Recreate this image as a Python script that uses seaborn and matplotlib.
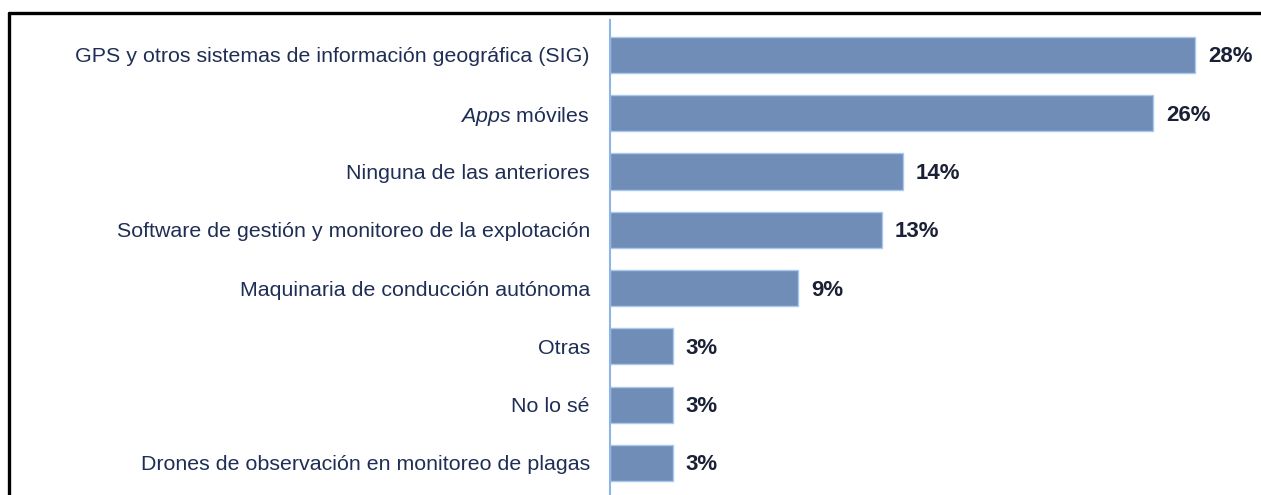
import matplotlib
matplotlib.use("Agg")
import matplotlib.pyplot as plt
import seaborn as sns
import pandas as pd
from matplotlib.lines import Line2D

categories = [
    "GPS y otros sistemas de información geográfica (SIG)",
    r"$\it{Apps}$ móviles",
    "Ninguna de las anteriores",
    "Software de gestión y monitoreo de la explotación",
    "Maquinaria de conducción autónoma",
    "Otras",
    "No lo sé",
    "Drones de observación en monitoreo de plagas",
]
values = [28, 26, 14, 13, 9, 3, 3, 3]
value_labels = ["28%", "26%", "14%", "13%", "9%", "3%", "3%", "3%"]

sns.set_theme(style="white")
plt.rcParams["font.family"] = ["Liberation Sans", "DejaVu Sans"]
plt.rcParams["mathtext.fontset"] = "custom"
plt.rcParams["mathtext.it"] = "Liberation Sans:italic"
plt.rcParams["mathtext.rm"] = "Liberation Sans"

W, H = 1261, 495
fig = plt.figure(figsize=(W / 100, H / 100), dpi=100)
ax = fig.add_axes([610 / W, 0, 1 - 610 / W, (495 - 20) / H])

df = pd.DataFrame({"cat": categories, "val": values})
sns.barplot(data=df, y="cat", x="val", orient="h", color="#6f8db6",
            saturation=1, width=0.62, edgecolor="#a9c8f0", linewidth=1.0, ax=ax)

px_per_unit = 585 / 28
ax.set_xlim(0, (W - 610) / px_per_unit)
ax.set_ylim(7.55, -0.6)

for i, (v, lab) in enumerate(zip(values, value_labels)):
    ax.annotate(lab, xy=(v, i), xytext=(13, -2), textcoords="offset pixels",
                va="center", ha="left", fontsize=16, fontweight="bold",
                color="#1a2035")

ax.set_xlabel("")
ax.set_ylabel("")
ax.set_xticks([])
ax.tick_params(axis="y", length=0, pad=14.5, labelsize=15.4, labelcolor="#1f2e55")
for s in ["top", "right", "bottom"]:
    ax.spines[s].set_visible(False)
ax.spines["left"].set_color("#8fb4e6")
ax.spines["left"].set_linewidth(1.5)

# outer frame lines (top and left)
fig.add_artist(Line2D([9 / W, 1], [1 - 13 / H, 1 - 13 / H], color="black",
                      linewidth=2.4, transform=fig.transFigure))
fig.add_artist(Line2D([9 / W, 9 / W], [0, 1 - 13 / H], color="black",
                      linewidth=2.4, transform=fig.transFigure))

fig.savefig("out.png", dpi=100)
